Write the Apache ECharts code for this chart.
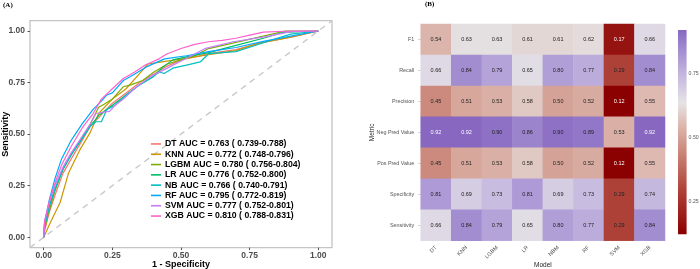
<!DOCTYPE html>
<html><head><meta charset="utf-8">
<script src="https://cdn.jsdelivr.net/npm/echarts@6/dist/echarts.min.js"></script>
<style>html,body{margin:0;padding:0;background:#fff}#c{width:700px;height:269px}</style>
</head><body><div id="c"></div>
<script>
// ---------- Panel A data ----------
const models = ['DT','KNN','LGBM','LR','NB','RF','SVM','XGB'];
const aucVals = [0.763,0.772,0.780,0.776,0.766,0.795,0.777,0.810];
const aucLow  = [0.739,0.748,0.756,0.752,0.740,0.772,0.752,0.788];
const aucHigh = [0.788,0.796,0.804,0.800,0.791,0.819,0.801,0.831];
const rocTicks = [0,0.25,0.5,0.75,1];
const chanceLine = [[-0.05,-0.05],[1.05,1.05]];

const rocDT = [[0,0],[0.003,0.03],[0.02,0.12],[0.04,0.2],[0.07,0.31],[0.1,0.38],[0.14,0.47],[0.17,0.54],[0.2,0.58],[0.25,0.65],[0.3,0.70],[0.35,0.75],[0.4,0.79],[0.45,0.83],[0.5,0.86],[0.55,0.875],[0.6,0.89],[0.7,0.91],[0.8,0.945],[0.9,0.97],[1,1]];
const rocKNN = [[0,0],[0.02,0.06],[0.06,0.17],[0.09,0.31],[0.13,0.42],[0.17,0.51],[0.2,0.60],[0.25,0.67],[0.3,0.72],[0.34,0.78],[0.38,0.84],[0.43,0.85],[0.48,0.86],[0.53,0.87],[0.6,0.885],[0.7,0.905],[0.78,0.94],[0.9,0.97],[1,1]];
const rocLGBM = [[0,0],[0.003,0.04],[0.02,0.13],[0.04,0.22],[0.07,0.33],[0.1,0.40],[0.14,0.48],[0.17,0.55],[0.2,0.63],[0.22,0.645],[0.25,0.67],[0.29,0.73],[0.32,0.74],[0.36,0.76],[0.4,0.80],[0.45,0.84],[0.5,0.86],[0.55,0.88],[0.6,0.915],[0.7,0.945],[0.8,0.975],[0.88,1.0],[1,1]];
const rocLR = [[0,0],[0.003,0.06],[0.02,0.15],[0.04,0.23],[0.07,0.33],[0.1,0.40],[0.13,0.46],[0.17,0.54],[0.2,0.59],[0.25,0.64],[0.3,0.69],[0.35,0.74],[0.4,0.78],[0.43,0.82],[0.47,0.86],[0.52,0.875],[0.6,0.895],[0.7,0.93],[0.8,0.965],[0.87,0.993],[1,1]];
const rocNB = [[0,0],[0.003,0.05],[0.02,0.15],[0.04,0.23],[0.07,0.33],[0.1,0.40],[0.14,0.48],[0.17,0.54],[0.19,0.56],[0.21,0.56],[0.23,0.62],[0.26,0.64],[0.3,0.69],[0.35,0.74],[0.4,0.78],[0.42,0.80],[0.44,0.795],[0.47,0.82],[0.52,0.835],[0.57,0.85],[0.6,0.89],[0.65,0.895],[0.7,0.90],[0.77,0.93],[0.85,0.965],[0.9,0.985],[1,1]];
const rocRF = [[0,0],[0.003,0.07],[0.02,0.18],[0.04,0.28],[0.065,0.38],[0.1,0.47],[0.14,0.55],[0.18,0.62],[0.21,0.66],[0.23,0.69],[0.25,0.70],[0.29,0.76],[0.33,0.79],[0.38,0.83],[0.44,0.865],[0.52,0.88],[0.6,0.90],[0.7,0.92],[0.8,0.95],[0.9,0.975],[1,1]];
const rocSVM = [[0,0],[0.003,0.07],[0.02,0.17],[0.04,0.25],[0.07,0.34],[0.1,0.41],[0.14,0.49],[0.17,0.55],[0.19,0.60],[0.21,0.605],[0.24,0.61],[0.26,0.64],[0.29,0.67],[0.33,0.72],[0.39,0.78],[0.45,0.82],[0.52,0.868],[0.59,0.916],[0.69,0.948],[0.81,0.973],[0.9,0.997],[1,1]];
const rocXGB = [[0,0],[0.003,0.08],[0.02,0.17],[0.04,0.26],[0.065,0.35],[0.1,0.44],[0.14,0.53],[0.18,0.60],[0.21,0.67],[0.25,0.72],[0.29,0.77],[0.33,0.80],[0.37,0.835],[0.42,0.865],[0.45,0.89],[0.5,0.915],[0.55,0.935],[0.6,0.948],[0.65,0.955],[0.7,0.965],[0.75,0.98],[0.8,0.995],[0.9,1.0],[1,1]];
const rocData = [rocDT,rocKNN,rocLGBM,rocLR,rocNB,rocRF,rocSVM,rocXGB];
const rocColors = ['#F8766D','#CD9600','#7CAE00','#00BE67','#00BFC4','#00A9FF','#C77CFF','#FF61CC'];

// ---------- Panel B data ----------
const heatModels = ['DT','KNN','LGBM','LR','NBM','RF','SVM','XGB'];
const metrics = ['F1','Recall','Precision','Neg Pred Value','Pos Pred Value','Specificity','Sensitivity'];
const f1Vals   = [0.54,0.63,0.63,0.61,0.61,0.62,0.17,0.66];
const recallV  = [0.66,0.84,0.79,0.65,0.80,0.77,0.29,0.84];
const precV    = [0.45,0.51,0.53,0.58,0.50,0.52,0.12,0.55];
const npvV     = [0.92,0.92,0.90,0.86,0.90,0.89,0.53,0.92];
const ppvV     = [0.45,0.51,0.53,0.58,0.50,0.52,0.12,0.55];
const specV    = [0.81,0.69,0.73,0.81,0.69,0.73,0.29,0.74];
const sensV    = [0.66,0.84,0.79,0.65,0.80,0.77,0.29,0.84];
const metricRows = [f1Vals,recallV,precV,npvV,ppvV,specV,sensV];
const cbTicks = [0.25,0.5,0.75];

// ---------- colour scale ----------
const cMin = 0.12, cMax = 0.92;
const colorStops = [[0.12,'#8B0000'],[0.30,'#B0453A'],[0.45,'#CC8A7E'],[0.55,'#DDB9B0'],[0.635,'#E6E3E6'],[0.75,'#C2B4DE'],[0.85,'#9F89CF'],[0.92,'#8767C0']];
function hex2rgb(h){return [parseInt(h.slice(1,3),16),parseInt(h.slice(3,5),16),parseInt(h.slice(5,7),16)];}
function colorAt(v){
  for(let i=0;i<colorStops.length-1;i++){
    const [a,ca]=colorStops[i],[b,cb]=colorStops[i+1];
    if(v<=b||i===colorStops.length-2){
      const t=Math.max(0,Math.min(1,(v-a)/(b-a)));
      const A=hex2rgb(ca),B=hex2rgb(cb);
      return 'rgb('+A.map((x,k)=>Math.round(x+(B[k]-x)*t)).join(',')+')';
    }
  }
}
const vmColors=[];for(let i=0;i<=40;i++){vmColors.push(colorAt(cMin+(cMax-cMin)*i/40));}

const heatData=[];
metricRows.forEach((row,r)=>row.forEach((v,c)=>{
  heatData.push({value:[c,r,v],label:{color:(v>=0.91||v<0.2)?'#ffffff':'#222222'}});
}));

const legendNames = models.map((m,i)=>m+' AUC = '+aucVals[i].toFixed(3)+' ( '+aucLow[i].toFixed(3)+'-'+aucHigh[i].toFixed(3)+')');

const FONT='Liberation Sans, Arial, sans-serif';
const series=[];
series.push({type:'line',xAxisIndex:0,yAxisIndex:0,data:chanceLine,showSymbol:false,silent:true,
  lineStyle:{color:'#C8C8C8',width:1.4,type:[6,5]},z:1});
rocData.forEach((d,i)=>{
  series.push({name:legendNames[i],type:'line',xAxisIndex:0,yAxisIndex:0,data:d,showSymbol:false,
    lineStyle:{color:rocColors[i],width:1.2},itemStyle:{color:rocColors[i]},z:2+i});
});
series.push({type:'heatmap',xAxisIndex:1,yAxisIndex:1,data:heatData,
  label:{show:true,fontSize:5.5,fontFamily:FONT,formatter:p=>p.value[2].toFixed(2)}});
const heatIdx=series.length-1;
series.push({type:'custom',xAxisIndex:2,yAxisIndex:2,data:[[0,cMin]],silent:true,
  renderItem:(params,api)=>{
    const t=api.coord([0,cMax]), b=api.coord([0,cMin]); const w=api.size([1,0])[0];
    return {type:'rect',shape:{x:t[0]-w/2,y:t[1],width:w,height:b[1]-t[1]},
      style:{fill:new echarts.graphic.LinearGradient(0,0,0,1,
        colorStops.map(s=>({offset:(cMax-s[0])/(cMax-cMin),color:s[1]})))}};
  }});

const chart=echarts.init(document.getElementById('c'),null,{renderer:'canvas'});
chart.setOption({
  animation:false,
  textStyle:{fontFamily:FONT},
  grid:[
    {left:30,top:20.7,width:302,height:226.9,show:true,borderColor:'#C4C4C4',borderWidth:1.3,backgroundColor:'#fff',containLabel:false,outerBoundsMode:'none'},
    {left:420.7,top:24,width:244.3,height:216.7,containLabel:false,outerBoundsMode:'none'},
    {left:678,top:30,width:8.6,height:204.3,containLabel:false,outerBoundsMode:'none'}
  ],
  xAxis:[
    {gridIndex:0,type:'value',min:-0.05,max:1.05,name:'1 - Specificity',nameLocation:'middle',nameGap:12,nameMoveOverlap:false,
     nameTextStyle:{fontSize:9,fontWeight:'bold',color:'#000'},
     axisLine:{show:false,onZero:false},splitLine:{show:false},
     axisTick:{show:true,length:2.5,lineStyle:{color:'#555'},customValues:rocTicks},
     axisLabel:{customValues:rocTicks,fontSize:8.5,fontWeight:'bold',color:'#4D4D4D',margin:4,formatter:v=>v.toFixed(2)}},
    {gridIndex:1,type:'category',data:heatModels,name:'Model',nameLocation:'middle',nameGap:21,nameMoveOverlap:false,
     nameTextStyle:{fontSize:6.5,color:'#222'},
     axisLine:{show:false},axisTick:{show:false},splitLine:{show:false},
     axisLabel:{rotate:45,fontSize:5.5,color:'#555',margin:6}},
    {gridIndex:2,type:'category',data:['c'],show:false}
  ],
  yAxis:[
    {gridIndex:0,type:'value',min:-0.05,max:1.05,name:'Sensitivity',nameLocation:'middle',nameGap:20,nameMoveOverlap:false,
     nameTextStyle:{fontSize:9,fontWeight:'bold',color:'#000'},
     axisLine:{show:false,onZero:false},splitLine:{show:false},
     axisTick:{show:true,length:2.5,lineStyle:{color:'#555'},customValues:rocTicks},
     axisLabel:{customValues:rocTicks,fontSize:8.5,fontWeight:'bold',color:'#4D4D4D',margin:5,formatter:v=>v.toFixed(2)}},
    {gridIndex:1,type:'category',data:metrics,inverse:true,name:'Metric',nameLocation:'middle',nameGap:44.5,nameMoveOverlap:false,
     nameTextStyle:{fontSize:6.5,color:'#222'},
     axisLine:{show:false,onZero:false},splitLine:{show:false},
     axisTick:{show:true,length:2.5,alignWithLabel:true,lineStyle:{color:'#D0D0D0'}},
     axisLabel:{fontSize:5.4,color:'#555',margin:6.5}},
    {gridIndex:2,type:'value',min:cMin,max:cMax,position:'right',
     axisLine:{show:false},splitLine:{show:false},
     axisTick:{show:true,inside:true,length:2,lineStyle:{color:'#fff'},customValues:cbTicks},
     axisLabel:{customValues:cbTicks,fontSize:5.2,color:'#555',margin:2,formatter:v=>v.toFixed(2)}}
  ],
  visualMap:{show:false,type:'continuous',min:cMin,max:cMax,seriesIndex:heatIdx,dimension:2,inRange:{color:vmColors}},
  legend:{orient:'vertical',left:151,top:138.8,itemGap:0,itemWidth:10,itemHeight:1.6,icon:'rect',
    data:legendNames,textStyle:{fontSize:8.7,fontWeight:'bold',color:'#000',lineHeight:10.3,padding:[0,0,0,-1]},
    padding:0},
  graphic:[
    {type:'text',left:3,top:2,style:{text:'(A)',font:'bold 7px Liberation Serif',fill:'#000'}},
    {type:'text',left:425,top:1,style:{text:'(B)',font:'bold 7px Liberation Serif',fill:'#000'}}
  ],
  series:series
});
</script></body></html>
